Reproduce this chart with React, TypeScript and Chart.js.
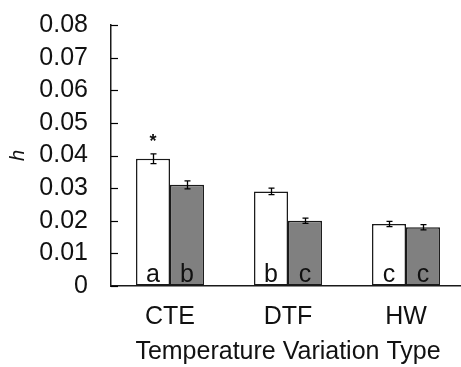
import { useEffect, useRef } from 'react';
import { Chart, registerables } from 'chart.js';

Chart.register(...registerables);

// Temperature variation types on the x axis
const categories = ['CTE', 'DTF', 'HW'];

// Mean h for the open (white) and filled (grey) bars
const whiteValues = [0.039, 0.029, 0.019];
const grayValues = [0.031, 0.02, 0.018];

// Standard errors drawn as whiskers
const whiteErrors = [0.0015, 0.001, 0.0008];
const grayErrors = [0.0012, 0.0008, 0.0008];

// Significance letters printed at the foot of each bar
const whiteLetters = ['a', 'b', 'c'];
const grayLetters = ['b', 'c', 'c'];

// Asterisk marks above the white bars
const whiteStars = [true, false, false];

// Y tick labels, 0 .. 0.08 in steps of 0.01
const yTickLabels = ['0', '0.01', '0.02', '0.03', '0.04', '0.05', '0.06', '0.07', '0.08'];

const FONT = "'Liberation Sans', Arial, sans-serif";

const errorsBySeries = [whiteErrors, grayErrors];
const lettersBySeries = [whiteLetters, grayLetters];

const annotations = {
  id: 'annotations',
  afterDatasetsDraw(chart: any) {
    const { ctx } = chart;
    const y = chart.scales.y;
    ctx.save();

    // tick marks pointing into the plot
    ctx.strokeStyle = '#000';
    ctx.lineWidth = 1.2;
    y.ticks.forEach((t: any) => {
      const py = Math.round(y.getPixelForValue(t.value)) + 0.5;
      ctx.beginPath();
      ctx.moveTo(y.right, py);
      ctx.lineTo(y.right + 7, py);
      ctx.stroke();
    });

    chart.data.datasets.forEach((ds: any, di: number) => {
      const meta = chart.getDatasetMeta(di);
      meta.data.forEach((bar: any, i: number) => {
        const v = ds.data[i] as number;
        const e = errorsBySeries[di][i];
        const x = Math.round(bar.x) + 0.5;
        const yt = y.getPixelForValue(v + e);
        const yb = y.getPixelForValue(v - e);

        // whisker
        ctx.strokeStyle = '#000';
        ctx.lineWidth = 1.3;
        ctx.beginPath();
        ctx.moveTo(x, yt);
        ctx.lineTo(x, yb);
        ctx.moveTo(x - 3, yt);
        ctx.lineTo(x + 3, yt);
        ctx.moveTo(x - 3, yb);
        ctx.lineTo(x + 3, yb);
        ctx.stroke();

        // letter at the foot of the bar
        ctx.fillStyle = '#111';
        ctx.font = `25px ${FONT}`;
        ctx.textAlign = 'center';
        ctx.textBaseline = 'alphabetic';
        ctx.fillText(lettersBySeries[di][i], bar.x, y.getPixelForValue(0) - 4);

        // asterisk over the whisker
        if (di === 0 && whiteStars[i]) {
          ctx.font = `bold 18px ${FONT}`;
          ctx.textBaseline = 'middle';
          ctx.fillText('*', bar.x, yt - 12);
        }
      });
    });
    ctx.restore();
  },
};

export default function App() {
  const canvasRef = useRef<HTMLCanvasElement>(null);

  useEffect(() => {
    const canvas = canvasRef.current;
    if (!canvas) return;
    const chart = new Chart(canvas, {
      type: 'bar',
      data: {
        labels: categories,
        datasets: [
          {
            data: whiteValues,
            backgroundColor: '#ffffff',
            borderColor: '#1a1a1a',
            borderWidth: 1.5,
            borderSkipped: false,
          },
          {
            data: grayValues,
            backgroundColor: '#808080',
            borderColor: '#1a1a1a',
            borderWidth: 1.5,
            borderSkipped: false,
          },
        ],
      },
      options: {
        responsive: false,
        animation: false,
        layout: { padding: { top: 25, left: 0, right: 0, bottom: 0 } },
        plugins: {
          legend: { display: false },
          tooltip: { enabled: false },
        },
        datasets: {
          bar: { categoryPercentage: 0.576, barPercentage: 1 },
        },
        scales: {
          x: {
            grid: { display: true, drawOnChartArea: false, drawTicks: false },
            border: { display: true, color: '#1a1a1a', width: 1.5 },
            ticks: { color: '#111', font: { family: FONT, size: 25 }, padding: 16 },
            title: {
              display: true,
              text: 'Temperature Variation Type',
              color: '#111',
              font: { family: FONT, size: 25 },
              padding: { top: 0, bottom: 0 },
            },
            afterFit: (s: any) => {
              s.height = 81;
            },
          },
          y: {
            min: 0,
            max: 0.08,
            grid: { display: true, drawOnChartArea: false, drawTicks: false },
            border: { display: true, color: '#1a1a1a', width: 1.5 },
            ticks: {
              stepSize: 0.01,
              autoSkip: false,
              color: '#111',
              font: { family: FONT, size: 25 },
              padding: 23,
              callback: (_v: any, i: number) => yTickLabels[i],
            },
            title: {
              display: true,
              text: 'h',
              color: '#111',
              font: { family: FONT, size: 20, style: 'italic' },
              padding: { top: 6, bottom: 0 },
            },
            afterFit: (s: any) => {
              s.width = 111;
              // the top label fits inside the layout padding
              s.paddingTop = 0;
            },
          },
        },
      },
      plugins: [annotations],
    });
    return () => chart.destroy();
  }, []);

  return (
    <div
      style={{
        position: 'fixed',
        left: 0,
        top: 0,
        width: 461,
        height: 367,
        overflow: 'hidden',
        background: '#fff',
      }}
    >
      <canvas ref={canvasRef} width={465} height={367} style={{ display: 'block' }} />
    </div>
  );
}
